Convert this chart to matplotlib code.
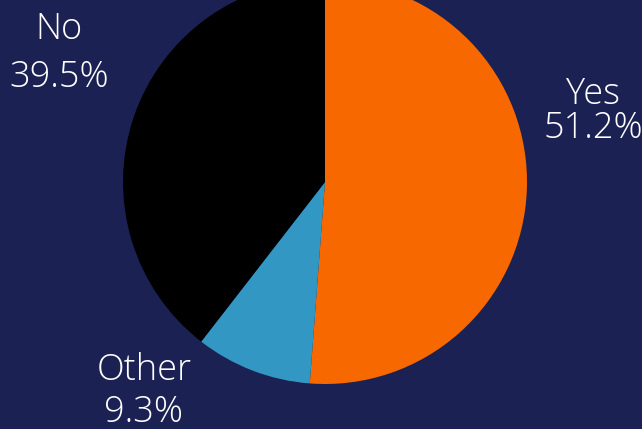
import matplotlib
matplotlib.use("Agg")
import matplotlib.pyplot as plt

categories = ["Yes", "Other", "No"]
values = [51.2, 9.3, 39.5]
colors = ["#f86800", "#3397c4", "#000000"]
bg = "#1b2253"

W, H = 642, 429
fig = plt.figure(figsize=(W / 100, H / 100), dpi=100, facecolor=bg)
ax = fig.add_axes([0, 0, 1, 1])
ax.set_facecolor(bg)

cx, cy, r = 325, H - 182, 202
ax.pie(values, colors=colors, startangle=90, counterclock=False,
       center=(cx, cy), radius=r, frame=True,
       wedgeprops=dict(linewidth=0))
ax.set_xlim(0, W)
ax.set_ylim(0, H)
ax.set_aspect("equal")
ax.axis("off")

# label anchor: (x center, baseline of name, baseline of percentage) in pixels from top
label_pos = {"Yes": (593, 104, 138), "Other": (144, 380, 422), "No": (59, 39, 87)}
font = dict(family=["Open Sans", "DejaVu Sans"], color="white", fontsize=26,
            fontweight="light", ha="center", va="baseline")
for cat, val in zip(categories, values):
    x, y1, y2 = label_pos[cat]
    ax.text(x, H - y1, cat, **font)
    ax.text(x, H - y2, f"{val}%", **font)

fig.savefig("out.png", dpi=100, facecolor=bg)
